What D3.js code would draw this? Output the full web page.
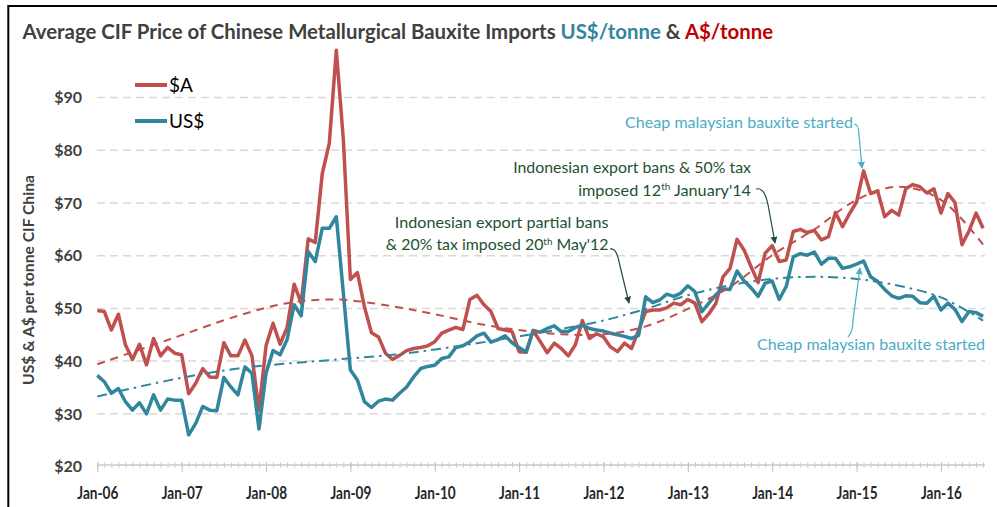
<!DOCTYPE html>
<html><head><meta charset="utf-8">
<script src="https://cdn.jsdelivr.net/npm/d3@7"></script>
<style>body{margin:0;background:#fff}svg{display:block}</style>
</head><body><svg id="c" width="997" height="507"></svg>
<script>
// ---------------- data ----------------
const yearLabels = ["Jan-06","Jan-07","Jan-08","Jan-09","Jan-10","Jan-11","Jan-12","Jan-13","Jan-14","Jan-15","Jan-16"];
const yTicks = [20,30,40,50,60,70,80,90];
// monthly series, Jan-06 .. Jul-16
const audPrice = [
 49.5,49.3,45.8,48.8,43.0,40.2,43.1,39.2,44.2,40.9,
 42.5,41.4,41.1,33.7,35.7,38.5,36.9,36.8,43.4,40.9,
 40.9,43.9,40.9,30.6,42.8,47.1,43.1,46.3,54.5,50.9,
 63.1,62.4,75.5,81.2,98.9,81.9,55.4,56.7,50.2,45.3,
 44.5,41.4,40.2,41.0,41.9,42.3,42.5,42.8,43.6,45.2,
 45.8,46.3,45.9,51.6,52.4,50.6,49.3,46.1,45.8,45.5,
 41.7,41.6,45.7,43.6,41.5,43.3,42.3,40.9,43.0,47.6,
 44.2,45.1,44.5,42.6,41.7,43.3,42.3,45.8,49.3,49.6,
 49.6,50.0,50.9,50.6,51.6,50.9,47.4,48.9,50.9,55.9,
 57.5,63.0,61.0,57.8,54.8,60.4,61.8,58.8,59.1,64.5,
 64.9,64.3,64.7,62.9,63.5,68.1,65.4,67.9,70.1,76.0,
 71.7,72.2,67.3,68.5,67.6,72.6,73.4,73.0,71.8,72.6,
 68.0,71.7,70.0,62.0,64.6,68.0,65.1];
const usdPrice = [
 37.2,36.0,33.8,34.7,32.2,30.6,32.0,29.9,33.5,30.6,
 32.7,32.5,32.5,25.9,28.1,31.3,30.6,30.5,36.8,35.0,
 33.5,38.8,37.6,27.0,37.6,41.9,41.1,44.0,50.6,48.5,
 60.7,58.8,65.1,65.1,67.3,52.8,38.2,36.3,32.2,31.1,
 32.3,32.7,32.5,33.8,35.0,36.9,38.5,38.9,39.1,40.4,
 40.7,42.5,42.8,43.6,44.7,45.2,43.5,44.0,44.7,43.4,
 42.5,41.6,45.7,45.4,46.1,46.6,45.5,45.5,46.3,46.7,
 46.1,45.8,45.6,45.2,44.9,44.6,44.2,44.8,52.1,51.0,
 51.5,52.6,52.2,52.8,54.2,53.1,49.3,50.9,52.5,53.6,
 53.5,57.0,55.1,53.8,52.2,54.7,55.1,51.6,54.1,59.7,
 60.3,60.0,60.6,58.3,59.4,59.4,57.5,57.8,58.3,58.9,
 55.9,55.0,53.5,52.3,51.8,52.3,52.2,51.0,50.9,52.2,
 49.6,50.9,49.7,47.4,49.3,49.1,48.4];
// trend lines (month index, value)
const audTrendMonths = [0,10,20,27,34,42,48,55,60,66,72,78,84,90,96,102,108,114,120,126];
const audTrend      = [39.3,43.9,48.5,50.9,51.6,50.3,48.8,46.8,45.8,45.0,45.0,46.5,49.8,54.0,60.0,64.9,70.5,73.0,70.5,62.0];
const usdTrendMonths = [0,10,20,34,42,48,54,60,66,72,78,84,90,96,102,108,114,120,126];
const usdTrend      = [33.2,36.2,38.5,40.2,41.1,42.1,43.3,44.6,46.0,47.6,49.8,52.4,54.3,55.5,55.9,55.5,54.2,52.0,47.6];

// ---------------- chart ----------------
const RED = "#C0504D", BLUE = "#31859C", CYAN = "#4BACC6", GREEN = "#1E5130", DARK = "#404040";
const FONT = "Lato, 'Open Sans', sans-serif";
const svg = d3.select("#c").attr("font-family", FONT);

const x = d3.scaleLinear().domain([0, 126]).range([97.3, 983.1]);
const y = d3.scaleLinear().domain([20, 100]).range([466, 44.4]);
const xEnd = 985;

function fit(sel, w){
  const len = sel.node().getComputedTextLength();
  const fs = parseFloat(sel.attr("font-size"));
  sel.attr("font-size", fs*w/len);
}

// frame
svg.append("path").attr("d","M8.3,507 V6 H997").attr("fill","none").attr("stroke","#000").attr("stroke-width",2);

// gridlines
const grid = svg.append("g").attr("transform","translate(97,0)")
  .call(d3.axisLeft(y).tickValues(yTicks.filter(d=>d>20)).tickSize(-(xEnd-97)).tickFormat(""));
grid.select(".domain").remove();
grid.selectAll("line").attr("stroke","#d9d9d9").attr("stroke-width",1.5).attr("stroke-dasharray","8,5");

// y labels
const yl = svg.append("g").attr("transform","translate(82,0)")
  .call(d3.axisLeft(y).tickValues(yTicks).tickSize(0).tickPadding(0).tickFormat(d=>"$"+d));
yl.select(".domain").remove();
yl.selectAll("text").attr("font-family",FONT).attr("font-size",16).attr("font-weight","bold").attr("fill",DARK).attr("dy","0.36em");

// x axis
const months = d3.range(0,127);
const minor = svg.append("g").attr("transform","translate(0,462)")
  .call(d3.axisBottom(x).tickValues(months).tickSize(6).tickFormat(""));
minor.select(".domain").remove();
minor.selectAll("line").attr("stroke","#d0d0d0");
const major = svg.append("g").attr("transform","translate(0,462)")
  .call(d3.axisBottom(x).tickValues(yearLabels.map((d,i)=>i*12)).tickSize(10).tickFormat((d,i)=>yearLabels[i]));
major.select(".domain").remove();
major.selectAll("line").attr("stroke","#c0c0c0");
major.selectAll("text").attr("y",36.5).attr("dy",null).attr("font-family",FONT).attr("font-size",16.5).attr("font-weight","bold").attr("fill","#262626")
  .attr("textLength",41).attr("lengthAdjust","spacingAndGlyphs");
svg.append("line").attr("x1",97).attr("x2",xEnd).attr("y1",465).attr("y2",465).attr("stroke","#c8c8c8").attr("stroke-width",1.5);

// y title
const yt = svg.append("text").attr("transform","translate(33.5,280) rotate(-90)").attr("text-anchor","middle")
  .attr("font-size",14.5).attr("font-weight","bold").attr("fill",DARK).text("US$ & A$ per tonne CIF China");
fit(yt, 210);

// series lines
const line = d3.line().x((d,i)=>x(i)).y(d=>y(d)).curve(d3.curveLinear);
svg.append("path").datum(audPrice).attr("d",line).attr("fill","none").attr("stroke",RED).attr("stroke-width",3.5).attr("stroke-linejoin","round");
svg.append("path").datum(usdPrice).attr("d",line).attr("fill","none").attr("stroke",BLUE).attr("stroke-width",3.5).attr("stroke-linejoin","round");

// trend lines
const tline = d3.line().x(d=>x(d[0])).y(d=>y(d[1])).curve(d3.curveCatmullRom.alpha(0.5));
svg.append("path").datum(audTrendMonths.map((m,i)=>[m,audTrend[i]])).attr("d",tline).attr("fill","none")
  .attr("stroke",RED).attr("stroke-width",2).attr("stroke-dasharray","8,6");
svg.append("path").datum(usdTrendMonths.map((m,i)=>[m,usdTrend[i]])).attr("d",tline).attr("fill","none")
  .attr("stroke",BLUE).attr("stroke-width",2).attr("stroke-dasharray","10,5,2.5,5");

// legend
const leg = [{t:"$A",c:RED,y:85},{t:"US$",c:BLUE,y:121}];
leg.forEach(l=>{
  svg.append("line").attr("x1",135).attr("x2",167).attr("y1",l.y).attr("y2",l.y).attr("stroke",l.c).attr("stroke-width",4);
  svg.append("text").attr("x",169).attr("y",l.y+7).attr("font-size",19).attr("fill","#000").text(l.t);
});

// title
const title = svg.append("text").attr("x",22.5).attr("y",39).attr("font-size",18).attr("font-weight","bold").attr("fill",DARK);
title.append("tspan").text("Average CIF Price of Chinese Metallurgical Bauxite Imports ");
title.append("tspan").attr("fill",BLUE).text("US$/tonne");
title.append("tspan").text(" & ");
title.append("tspan").attr("fill","#C00000").text("A$/tonne");
fit(title, 751);

// annotations
function ann(lines, color, anchor, xx){
  lines.forEach(l=>{
    const t = svg.append("text").attr("x",xx).attr("y",l.y).attr("text-anchor",anchor).attr("font-size",15).attr("fill",color);
    l.parts.forEach(p=>{
      const s = t.append("tspan").text(p.t);
      if(p.sup) s.attr("font-size","0.62em").attr("dy","-0.55em");
      if(p.after) s.attr("dy","0.34em");
    });
    fit(t, l.w);
  });
}
ann([{y:128,w:228,parts:[{t:"Cheap malaysian bauxite started"}]}], CYAN, "end", 853);
ann([{y:173,w:238,parts:[{t:"Indonesian export bans & 50% tax"}]},
     {y:196,w:173,parts:[{t:"imposed 12"},{t:"th",sup:true},{t:" January'14",after:true}]}], GREEN, "end", 751);
ann([{y:228,w:214,parts:[{t:"Indonesian export partial bans"}]},
     {y:250,w:223,parts:[{t:"& 20% tax imposed 20"},{t:"th",sup:true},{t:" May'12",after:true}]}], GREEN, "end", 608.5);
ann([{y:350,w:228,parts:[{t:"Cheap malaysian bauxite started"}]}], CYAN, "end", 985);

// arrows
const defs = svg.append("defs");
[["aC",CYAN],["aG",GREEN]].forEach(([id,c])=>{
  defs.append("marker").attr("id",id).attr("viewBox","0 0 10 10").attr("refX",9).attr("refY",5)
    .attr("markerWidth",7).attr("markerHeight",7).attr("markerUnits","userSpaceOnUse").attr("orient","auto")
    .append("path").attr("d","M0,0 L10,5 L0,10 z").attr("fill",c);
});
function arrow(d,c,m){ svg.append("path").attr("d",d).attr("fill","none").attr("stroke",c).attr("stroke-width",1.2).attr("marker-end","url(#"+m+")"); }
arrow("M854,124 C858,124 859,128 859,135 L862,168", CYAN, "aC");
arrow("M756,189 C764,187 767,198 769,210 L775,243", GREEN, "aG");
arrow("M610,249 C616,248 618,256 620,266 L629,303", GREEN, "aG");
arrow("M848,337 C852,333 853,327 853,320 L860,268", CYAN, "aC");
</script></body></html>
